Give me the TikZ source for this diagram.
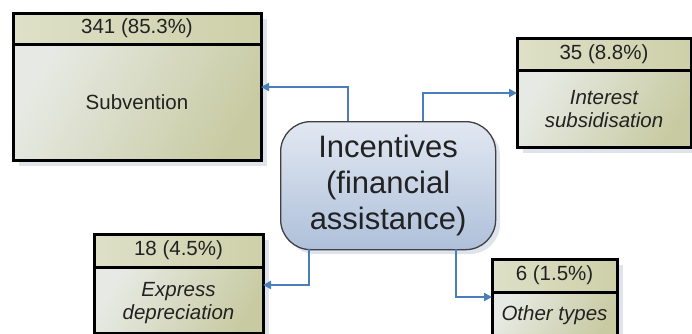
\documentclass[tikz,border=0pt]{standalone}
\usepackage{fontspec}
\setmainfont{Liberation Sans}
\usetikzlibrary{arrows.meta}
\definecolor{boxdark}{HTML}{C8CBA2}
\definecolor{boxlight}{HTML}{E7EAE4}
\definecolor{headlight}{HTML}{DEE0C8}
\definecolor{headdark}{HTML}{CDD0A8}
\definecolor{shadowc}{HTML}{DFE4EC}
\definecolor{arrowblue}{HTML}{4A7EBB}
\definecolor{ctrlight}{HTML}{E2E8F2}
\definecolor{ctrdark}{HTML}{AEC0DA}
\definecolor{txt}{HTML}{222222}
\tikzset{
  bodybox/.style={draw=black, line width=3pt, left color=boxlight, right color=boxdark, shading angle=60, inner sep=0pt, outer sep=0pt},
  headbox/.style={draw=black, line width=3pt, left color=headlight, right color=headdark, inner sep=0pt, outer sep=0pt, text=txt, font=\fontsize{20.5}{22}\selectfont},
  bodytext/.style={align=center, text=txt, font=\fontsize{20.5}{23}\selectfont, inner sep=0pt},
  itext/.style={bodytext, font=\fontsize{20.5}{23}\selectfont\itshape},
  centre/.style={draw=black!75, line width=1.3pt, rounded corners=30pt, top color=ctrlight, bottom color=ctrdark, inner sep=0pt, align=center, text=txt, font=\fontsize{31}{36}\selectfont},
  conn/.style={draw=arrowblue, line width=2pt, -{Triangle[length=8pt, width=8pt]}},
  shadowbox/.style={fill=shadowc}
}
\begin{document}
\begin{tikzpicture}[x=1pt,y=-1pt]
\useasboundingbox (0,0) rectangle (692,333);
% shadows
\fill[shadowc] (19,19) rectangle (267,166);
\fill[shadowc] (523,44) rectangle (698,153);
\fill[shadowc] (100,240) rectangle (269,345);
\fill[shadowc] (498,265) rectangle (623,345);
\fill[shadowc, rounded corners=30pt] (285,126) rectangle (500,254);
% Subvention
\node[bodybox, minimum width=248, minimum height=116, anchor=north west] (sb) at (13,44) {};
\node[headbox, minimum width=248, minimum height=31, anchor=north west] (sh) at (13,13) {341 (85.3\%)};
\node[bodytext] (st) at (sb.center) {Subvention};
% Interest
\node[bodybox, minimum width=174, minimum height=77, anchor=north west] (ib) at (517,70) {};
\node[headbox, minimum width=174, minimum height=32, anchor=north west] (ih) at (517,38) {35 (8.8\%)};
\node[itext] (it) at ([yshift=-1pt]ib.center) {Interest\\subsidisation};
% Express
\node[bodybox, minimum width=169, minimum height=66, anchor=north west] (eb) at (94,267) {};
\node[headbox, minimum width=169, minimum height=33, anchor=north west] (eh) at (94,234) {18 (4.5\%)};
\node[itext] (et) at ([yshift=-3pt]eb.center) {Express\\depreciation};
% Other
\node[bodybox, minimum width=125, minimum height=45, anchor=north west] (ob) at (492,292) {};
\node[headbox, minimum width=125, minimum height=33, anchor=north west] (oh) at (492,259) {6 (1.5\%)};
\node[itext] (ot) at ([yshift=-1pt]ob.center) {Other types};
% centre
\node[centre, minimum width=215, minimum height=128, anchor=north west] (c) at (280,121) {Incentives\\(financial\\assistance)};
% connectors
\coordinate (c1) at (348,121);
\coordinate (c2) at (423,121);
\coordinate (c3) at (309,249);
\coordinate (c4) at (456,249);
\draw[conn] (c1) |- (sb.east |- 0,87);
\draw[conn] (c2) |- (ib.west |- 0,93);
\draw[conn] (c3) |- (eb.east |- 0,285);
\draw[conn] (c4) |- (ob.west |- 0,297);
\end{tikzpicture}
\end{document}
